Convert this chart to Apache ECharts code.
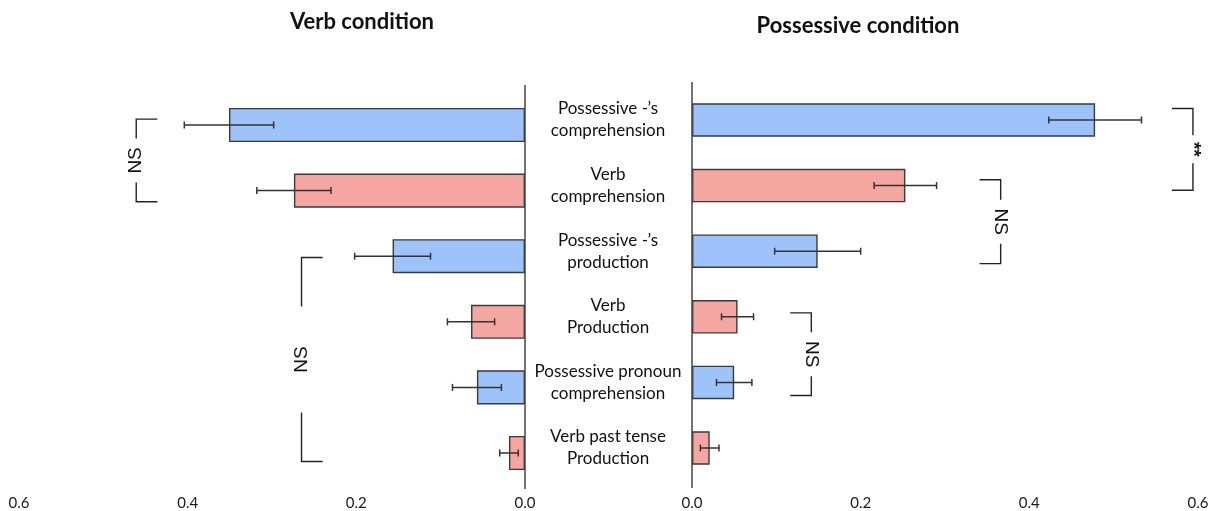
<!DOCTYPE html>
<html>
<head>
<meta charset="utf-8">
<script src="https://cdn.jsdelivr.net/npm/echarts@6/dist/echarts.min.js"></script>
<style>
  html, body { margin: 0; padding: 0; background: #ffffff; }
  #chart { width: 1214px; height: 511px; }
</style>
</head>
<body>
<div id="chart"></div>
<script>
// Task categories, top to bottom
const categories = [
  'Possessive -\u2019s\ncomprehension',
  'Verb\ncomprehension',
  'Possessive -\u2019s\nproduction',
  'Verb\nProduction',
  'Possessive pronoun\ncomprehension',
  'Verb past tense\nProduction'
];
// Which task family each category belongs to (drives bar colour)
const taskKinds = ['possessive', 'verb', 'possessive', 'verb', 'possessive', 'verb'];

// Verb condition: means and error half-widths
const verbMeans  = [0.351, 0.274, 0.157, 0.064, 0.057, 0.019];
const verbErrors = [0.053, 0.044, 0.045, 0.028, 0.029, 0.011];

// Possessive condition: means and error half-widths
const possMeans  = [0.478, 0.253, 0.149, 0.054, 0.050, 0.021];
const possErrors = [0.055, 0.037, 0.051, 0.019, 0.021, 0.011];

const xTickStep = 0.2;
const xMax = 0.6;

// Significance brackets (x in axis units, span in category rows)
const verbBrackets = [
  { label: 'NS', x: 0.461, from: -0.09, to: 1.17, gap: 22 },
  { label: 'NS', x: 0.265, from: 2.02,  to: 5.13, gap: 53 }
];
const possBrackets = [
  { label: '**', x: 0.594,  from: -0.175, to: 1.07, gap: 14 },
  { label: 'NS', x: 0.366,  from: 0.91,   to: 2.19, gap: 22 },
  { label: 'NS', x: 0.1415, from: 2.94,   to: 4.20, gap: 22 }
];

const COLORS = { possessive: '#9DC3FA', verb: '#F4A6A1' };
const FONT = 'Lato, "Open Sans", sans-serif';
const INK = '#1a1a1a';

const chart = echarts.init(document.getElementById('chart'), null, { renderer: 'canvas' });

function barData(means) {
  return means.map((v, i) => ({
    value: v,
    itemStyle: { color: COLORS[taskKinds[i]] }
  }));
}

function errorSeries(means, errors, axisIdx) {
  return {
    type: 'custom',
    xAxisIndex: axisIdx,
    yAxisIndex: axisIdx,
    z: 5,
    silent: true,
    data: means.map((m, i) => [m, i, errors[i]]),
    renderItem: function (params, api) {
      const m = api.value(0), i = api.value(1), e = api.value(2);
      const lo = api.coord([m - e, i]);
      const hi = api.coord([m + e, i]);
      const y = lo[1], cap = 3.5;
      const style = { stroke: '#333', lineWidth: 1.5 };
      return {
        type: 'group',
        children: [
          { type: 'line', shape: { x1: lo[0], y1: y, x2: hi[0], y2: y }, style: style },
          { type: 'line', shape: { x1: lo[0], y1: y - cap, x2: lo[0], y2: y + cap }, style: style },
          { type: 'line', shape: { x1: hi[0], y1: y - cap, x2: hi[0], y2: y + cap }, style: style }
        ]
      };
    }
  };
}

// Vertical zero line, running slightly past the first and last rows
function spineSeries(axisIdx, from, to) {
  return {
    type: 'custom',
    xAxisIndex: axisIdx,
    yAxisIndex: axisIdx,
    z: 4,
    silent: true,
    data: [[0, 0]],
    renderItem: function (params, api) {
      const a = api.coord([0, 0]), b = api.coord([0, 1]);
      const band = b[1] - a[1];
      return {
        type: 'line',
        shape: { x1: a[0], y1: a[1] + from * band, x2: a[0], y2: a[1] + to * band },
        style: { stroke: '#444', lineWidth: 1.5 }
      };
    }
  };
}

function bracketSeries(list, axisIdx, rotation) {
  const TICK = 0.025;
  return {
    type: 'custom',
    xAxisIndex: axisIdx,
    yAxisIndex: axisIdx,
    z: 6,
    silent: true,
    data: list.map(b => [b.x, 0]),
    renderItem: function (params, api) {
      const b = list[params.dataIndex];
      const p0 = api.coord([b.x, 0]), p1 = api.coord([b.x, 1]);
      const band = p1[1] - p0[1];
      const yTop = p0[1] + b.from * band;
      const yBot = p0[1] + b.to * band;
      const xv = p0[0];
      const xt = api.coord([b.x - TICK, 0])[0];
      const mid = (yTop + yBot) / 2;
      const style = { stroke: '#222', lineWidth: 1.4, fill: null };
      return {
        type: 'group',
        children: [
          { type: 'polyline', shape: { points: [[xt, yTop], [xv, yTop], [xv, mid - b.gap]] }, style: style },
          { type: 'polyline', shape: { points: [[xv, mid + b.gap], [xv, yBot], [xt, yBot]] }, style: style },
          {
            type: 'text', x: xv, y: mid, rotation: rotation,
            style: {
              text: b.label, align: 'center', verticalAlign: 'middle',
              font: (b.label === '**' ? 'bold 19px ' : '19px ') + '"Liberation Sans", Arial, sans-serif',
              fill: '#111'
            }
          }
        ]
      };
    }
  };
}

const xAxisBase = {
  type: 'value',
  min: 0,
  max: xMax,
  interval: xTickStep,
  axisLine: { show: false },
  axisTick: { show: false },
  splitLine: { show: false },
  axisLabel: {
    formatter: v => v.toFixed(1),
    color: INK,
    fontFamily: FONT,
    fontSize: 15
  }
};

const option = {
  backgroundColor: '#ffffff',
  animation: false,
  graphic: [
    { type: 'text', x: 362, y: 22, style: { text: 'Verb condition', align: 'center', verticalAlign: 'middle', font: 'bold 22px ' + FONT, fill: '#111' } },
    { type: 'text', x: 858, y: 26, style: { text: 'Possessive condition', align: 'center', verticalAlign: 'middle', font: 'bold 22px ' + FONT, fill: '#111' } }
  ],
  grid: [
    { left: 19,  top: 92.2, width: 506, height: 393.6 },
    { left: 692, top: 87.2, width: 506, height: 393.6 }
  ],
  xAxis: [
    Object.assign({}, xAxisBase, { gridIndex: 0, inverse: true, axisLabel: Object.assign({}, xAxisBase.axisLabel, { margin: 10 }) }),
    Object.assign({}, xAxisBase, { gridIndex: 1, axisLabel: Object.assign({}, xAxisBase.axisLabel, { margin: 15 }) })
  ],
  yAxis: [
    {
      type: 'category', gridIndex: 0, data: categories, inverse: true, position: 'right',
      axisLine: { show: false }, axisTick: { show: false }, axisLabel: { show: false }
    },
    {
      type: 'category', gridIndex: 1, data: categories, inverse: true, position: 'left',
      axisLine: { show: false }, axisTick: { show: false },
      axisLabel: {
        margin: 84, align: 'center', color: '#111',
        fontFamily: FONT, fontSize: 17, lineHeight: 22
      }
    }
  ],
  series: [
    {
      type: 'bar', xAxisIndex: 0, yAxisIndex: 0, barWidth: '52%',
      itemStyle: { borderColor: '#3a3a3a', borderWidth: 1.4 },
      data: barData(verbMeans)
    },
    {
      type: 'bar', xAxisIndex: 1, yAxisIndex: 1, barWidth: '51%',
      itemStyle: { borderColor: '#3a3a3a', borderWidth: 1.4 },
      data: barData(possMeans)
    },
    errorSeries(verbMeans, verbErrors, 0),
    errorSeries(possMeans, possErrors, 1),
    spineSeries(0, -0.61, 5.55),
    spineSeries(1, -0.58, 5.61),
    bracketSeries(verbBrackets, 0, Math.PI / 2),
    bracketSeries(possBrackets, 1, -Math.PI / 2)
  ]
};

chart.setOption(option);
</script>
</body>
</html>
